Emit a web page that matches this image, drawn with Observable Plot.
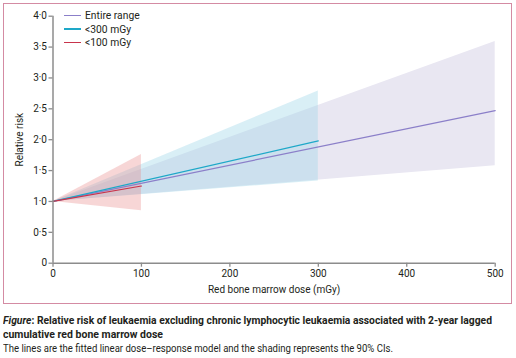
<!DOCTYPE html>
<html>
<head>
<meta charset="utf-8">
<script src="https://cdn.jsdelivr.net/npm/d3@7"></script>
<script src="https://cdn.jsdelivr.net/npm/@observablehq/plot@0.6"></script>
<style>
  body { margin: 0; background: #fff; }
  #wrap { position: relative; width: 516px; height: 358px; font-family: Roboto, "Liberation Sans", sans-serif; color: #231f20; }
  #frame { position: absolute; left: 3px; top: 3px; width: 509px; height: 301px; box-sizing: border-box; border: 1px solid #d48ba3; pointer-events: none; }
  #chart { position: absolute; left: 0; top: 0; }
  #legend { position: absolute; left: 64px; top: 9px; font-size: 10.3px; }
  .item { height: 13.4px; display: flex; align-items: center; }
  .sw { width: 17px; height: 1.4px; margin-right: 4px; }
  #caption { position: absolute; left: 3px; top: 313px; width: 520px; font-size: 11.5px; line-height: 14px; }
  .cl { display: block; white-space: nowrap; height: 14px; }
  .cl span { display: inline-block; transform-origin: 0 50%; }
</style>
</head>
<body>
<div id="wrap">
  <div id="chart"></div>
  <div id="frame"></div>
  <div id="legend"></div>
  <div id="caption">
    <div class="cl"><span data-w="489" style="font-weight:bold"><i>Figure</i>: Relative risk of leukaemia excluding chronic lymphocytic leukaemia associated with 2-year lagged</span></div>
    <div class="cl"><span data-w="160" style="font-weight:bold">cumulative red bone marrow dose</span></div>
    <div class="cl"><span data-w="390">The lines are the fitted linear dose–response model and the shading represents the 90% CIs.</span></div>
  </div>
</div>
<script>
// Series: fitted relative risk and 90% CI at dose endpoints (linear model)
const seriesNames = ["Entire range", "<300 mGy", "<100 mGy"];
const entireDose = [0, 500];
const entireRR = [1, 2.47];
const entireLower = [1, 1.58];
const entireUpper = [1, 3.59];

const lt300Dose = [0, 300];
const lt300RR = [1, 1.98];
const lt300Lower = [1, 1.33];
const lt300Upper = [1, 2.79];

const lt100Dose = [0, 100];
const lt100RR = [1, 1.25];
const lt100Lower = [1, 0.85];
const lt100Upper = [1, 1.76];

const xTicks = [0, 100, 200, 300, 400, 500];
const yTicks = [0, 0.5, 1, 1.5, 2, 2.5, 3, 3.5, 4];

const lineColors = ["#8b7fc9", "#1ea8c8", "#c8344c"];

function rows(dose, rr, lo, hi) {
  return dose.map((d, i) => ({dose: d, rr: rr[i], lo: lo[i], hi: hi[i]}));
}
const entire = rows(entireDose, entireRR, entireLower, entireUpper);
const lt300 = rows(lt300Dose, lt300RR, lt300Lower, lt300Upper);
const lt100 = rows(lt100Dose, lt100RR, lt100Lower, lt100Upper);

const fmtY = d => d === 0 ? "0" : d.toFixed(1).replace(".", "·");

const plot = Plot.plot({
  width: 516,
  height: 300,
  marginLeft: 52.5,
  marginRight: 21.3,
  marginTop: 15.7,
  marginBottom: 37.3,
  style: {fontFamily: "Roboto, 'Liberation Sans', sans-serif", fontSize: "10px", color: "#231f20", background: "transparent"},
  x: {domain: [0, 500]},
  y: {domain: [0, 4]},
  marks: [
    Plot.areaY(entire, {x: "dose", y1: "lo", y2: "hi", fill: "#e9e7f2", fillOpacity: 1}),
    Plot.areaY(lt300, {x: "dose", y1: "lo", y2: "hi", fill: "#9fd6e8", fillOpacity: 0.4}),
    Plot.areaY(lt100, {x: "dose", y1: "lo", y2: "hi", fill: "#e88a8a", fillOpacity: 0.35}),
    Plot.lineY(entire, {x: "dose", y: "rr", stroke: lineColors[0], strokeWidth: 1.2}),
    Plot.lineY(lt300, {x: "dose", y: "rr", stroke: lineColors[1], strokeWidth: 1.2}),
    Plot.lineY(lt100, {x: "dose", y: "rr", stroke: lineColors[2], strokeWidth: 1.2}),
    Plot.axisX(xTicks, {tickSize: 4, tickPadding: 3, stroke: "#8c8c8c", fill: "#231f20", strokeWidth: 1.3, label: "Red bone marrow dose (mGy)", labelAnchor: "center", labelOffset: 30, labelArrow: "none"}),
    Plot.axisY(yTicks, {tickSize: 4, tickPadding: 2, stroke: "#8c8c8c", fill: "#231f20", strokeWidth: 1.3, tickFormat: fmtY, label: "Relative risk", labelAnchor: "center", labelOffset: 37, labelArrow: "none"}),
    Plot.ruleY([0], {stroke: "#8c8c8c", strokeWidth: 1.5}),
    Plot.ruleX([0], {stroke: "#8c8c8c", strokeWidth: 1.5})
  ]
});
document.getElementById("chart").appendChild(plot);

const legend = document.getElementById("legend");
seriesNames.forEach((name, i) => {
  const item = document.createElement("div");
  item.className = "item";
  const sw = document.createElement("span");
  sw.className = "sw";
  sw.style.background = lineColors[i];
  const t = document.createElement("span");
  t.textContent = name;
  item.appendChild(sw);
  item.appendChild(t);
  legend.appendChild(item);
});

// Fit caption lines to the reference widths (the original face is a narrow sans)
document.querySelectorAll("#caption .cl span").forEach(s => {
  const w = s.getBoundingClientRect().width;
  const target = +s.dataset.w;
  if (w > 0) s.style.transform = `scaleX(${target / w})`;
});
</script>
</body>
</html>
